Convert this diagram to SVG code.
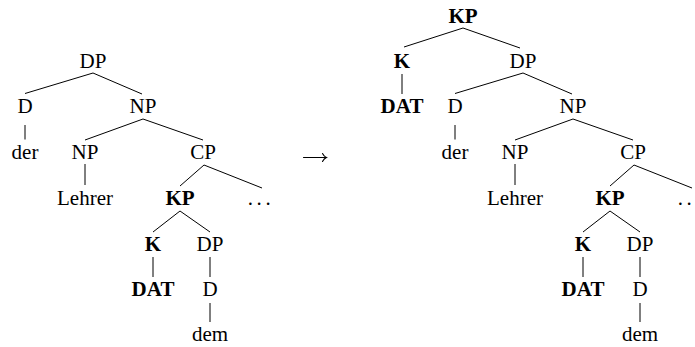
<svg xmlns="http://www.w3.org/2000/svg" width="695" height="347" viewBox="0 0 695 347">
<style>
text{font-family:"Liberation Serif","Times New Roman",serif;font-size:21px;fill:#000;text-anchor:middle}
.b{font-weight:bold}
.dots{letter-spacing:3.6px}
#connectors line{stroke:#000;stroke-width:1}
.arrow{fill:none;stroke:#000;stroke-width:1.1;stroke-linecap:round}
</style>
<rect width="695" height="347" fill="#fff"/>
<g id="connectors">
<!-- left tree -->
<line x1="93" y1="73" x2="25" y2="93.5"/>
<line x1="93" y1="73" x2="142" y2="94"/>
<line x1="25" y1="125" x2="25" y2="139.5"/>
<line x1="143" y1="119" x2="85" y2="140"/>
<line x1="143" y1="119" x2="203" y2="140"/>
<line x1="85" y1="164" x2="85" y2="185"/>
<line x1="204" y1="165" x2="180" y2="186"/>
<line x1="204" y1="165" x2="262" y2="188"/>
<line x1="180" y1="211" x2="153" y2="232"/>
<line x1="180" y1="211" x2="210" y2="232"/>
<line x1="153" y1="257" x2="153" y2="277"/>
<line x1="210" y1="257" x2="210" y2="277"/>
<line x1="210" y1="303" x2="210" y2="322"/>
<!-- right tree -->
<line x1="463" y1="28" x2="404" y2="47"/>
<line x1="463" y1="28" x2="520" y2="48"/>
<line x1="402" y1="74" x2="402" y2="94"/>
<line x1="523" y1="73" x2="455" y2="93.5"/>
<line x1="523" y1="73" x2="572" y2="94"/>
<line x1="455" y1="125" x2="455" y2="139.5"/>
<line x1="573" y1="119" x2="515" y2="140"/>
<line x1="573" y1="119" x2="633" y2="140"/>
<line x1="515" y1="164" x2="515" y2="185"/>
<line x1="634" y1="165" x2="610" y2="186"/>
<line x1="634" y1="165" x2="692" y2="188"/>
<line x1="610" y1="211" x2="583" y2="232"/>
<line x1="610" y1="211" x2="640" y2="232"/>
<line x1="583" y1="257" x2="583" y2="277"/>
<line x1="640" y1="257" x2="640" y2="277"/>
<line x1="640" y1="303" x2="640" y2="322"/>
</g>
<g id="arrow">
<path class="arrow" d="M303.5,157.5 H326.5 M322.5,153.5 Q324,156.5 326.5,157.5 Q324,158.5 322.5,161.5"/>
</g>
<!-- left tree nodes -->
<g id="L-DP"><text x="93" y="68">DP</text></g>
<g id="L-D"><text x="25" y="113">D</text></g>
<g id="L-NP"><text x="143" y="113">NP</text></g>
<g id="L-der"><text x="25" y="159">der</text></g>
<g id="L-NP2"><text x="85" y="159">NP</text></g>
<g id="L-CP"><text x="203" y="159">CP</text></g>
<g id="L-Lehrer"><text x="85" y="205">Lehrer</text></g>
<g id="L-KP"><text class="b" x="180" y="205">KP</text></g>
<g id="L-dots"><text class="dots" x="261" y="205">...</text></g>
<g id="L-K"><text class="b" x="153" y="251">K</text></g>
<g id="L-DP2"><text x="210" y="251">DP</text></g>
<g id="L-DAT"><text class="b" x="153" y="296">DAT</text></g>
<g id="L-D2"><text x="210" y="296">D</text></g>
<g id="L-dem"><text x="210" y="341">dem</text></g>
<!-- right tree nodes -->
<g id="R-KP0"><text class="b" x="463" y="23">KP</text></g>
<g id="R-K0"><text class="b" x="402" y="68">K</text></g>
<g id="R-DAT0"><text class="b" x="402" y="113">DAT</text></g>
<g id="R-DP"><text x="523" y="68">DP</text></g>
<g id="R-D"><text x="455" y="113">D</text></g>
<g id="R-NP"><text x="573" y="113">NP</text></g>
<g id="R-der"><text x="455" y="159">der</text></g>
<g id="R-NP2"><text x="515" y="159">NP</text></g>
<g id="R-CP"><text x="633" y="159">CP</text></g>
<g id="R-Lehrer"><text x="515" y="205">Lehrer</text></g>
<g id="R-KP"><text class="b" x="610" y="205">KP</text></g>
<g id="R-dots"><text class="dots" x="691" y="205">...</text></g>
<g id="R-K"><text class="b" x="583" y="251">K</text></g>
<g id="R-DP2"><text x="640" y="251">DP</text></g>
<g id="R-DAT"><text class="b" x="583" y="296">DAT</text></g>
<g id="R-D2"><text x="640" y="296">D</text></g>
<g id="R-dem"><text x="640" y="341">dem</text></g>
</svg>
